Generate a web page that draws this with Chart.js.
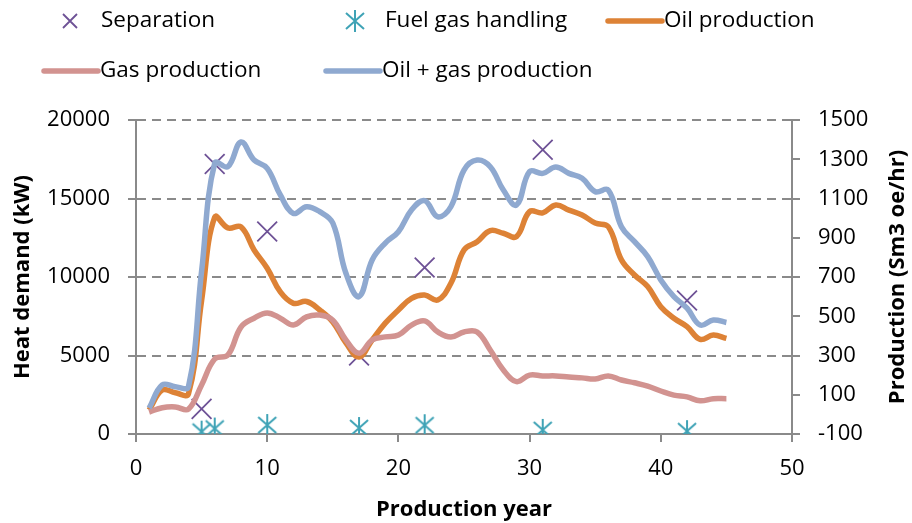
<!DOCTYPE html>
<html>
<head>
<meta charset="utf-8">
<script src="https://cdn.jsdelivr.net/npm/chart.js@4.4.1/dist/chart.umd.min.js"></script>
<style>
  html, body { margin: 0; padding: 0; background: #fff; }
  #wrap { width: 912px; height: 523px; position: relative; }
</style>
</head>
<body>
<div id="wrap"><canvas id="heatChart" width="912" height="523"></canvas></div>
<script>
// heat demand markers (left axis, kW)
const sepYears = [5, 6, 10, 17, 22, 31, 42];
const sepValues = [1600, 17200, 12900, 5000, 10600, 18100, 8500];
const fuelYears = [5, 6, 10, 17, 22, 31, 42];
const fuelValues = [150, 350, 570, 380, 560, 260, 180];

// production profiles (right axis, Sm3 oe/hr)
const years = [1, 2, 3, 4, 5, 6, 7, 8, 9, 10, 11, 12, 13, 14, 15, 16, 17, 18, 19, 20, 21, 22, 23,
  24, 25, 26, 27, 28, 29, 30, 31, 32, 33, 34, 35, 36, 37, 38, 39, 40, 41, 42, 43, 44, 45];
const oilProd = [22, 124, 110, 105, 580, 1005, 950, 955, 838, 745, 624, 566, 575, 532, 471, 364,
  292, 379, 465, 532, 591, 608, 583, 668, 838, 880, 936, 923, 906, 1033, 1027, 1067, 1041, 1016,
  975, 956, 787, 710, 651, 549, 490, 447, 382, 404, 387];
const gasProd = [12, 34, 38, 27, 150, 282, 302, 445, 490, 517, 490, 455, 497, 506, 480, 379, 312,
  379, 395, 404, 455, 476, 420, 394, 420, 420, 328, 226, 167, 200, 196, 196, 190, 186, 180, 196,
  175, 161, 144, 119, 98, 89, 69, 80, 80];
const totalProd = [32, 150, 141, 141, 730, 1280, 1262, 1388, 1296, 1254, 1118, 1024, 1058, 1033,
  975, 719, 600, 787, 873, 931, 1041, 1089, 1007, 1058, 1245, 1296, 1262, 1143, 1067, 1237, 1228,
  1260, 1228, 1203, 1135, 1143, 956, 880, 804, 685, 600, 541, 455, 481, 468];

const xTicks = [0, 10, 20, 30, 40, 50];

const PURPLE = "#6E5296";
const TEAL = "#3FA3B6";
const ORANGE = "#DD8236";
const PINK = "#D29390";
const BLUE = "#8FA9D0";
const AXIS = "#8a8a8a";
const FONT = "'Open Sans', 'Noto Sans', sans-serif";

Chart.defaults.font.family = FONT;
Chart.defaults.font.size = 22;
Chart.defaults.color = "#000";

function pairs(xs, ys) {
  return xs.map((x, i) => ({ x: x, y: ys[i] }));
}

function plain(value) {
  return String(value);
}

function drawAsterisk(ctx, cx, cy) {
  ctx.save();
  ctx.strokeStyle = TEAL;
  ctx.lineWidth = 2;
  ctx.beginPath();
  ctx.moveTo(cx, cy - 11); ctx.lineTo(cx, cy + 11);
  ctx.moveTo(cx - 9, cy - 8); ctx.lineTo(cx + 9, cy + 8);
  ctx.moveTo(cx + 9, cy - 8); ctx.lineTo(cx - 9, cy + 8);
  ctx.stroke();
  ctx.restore();
}

function drawCross(ctx, cx, cy, r) {
  ctx.save();
  ctx.strokeStyle = PURPLE;
  ctx.lineWidth = 1.8;
  ctx.beginPath();
  ctx.moveTo(cx - r, cy - r); ctx.lineTo(cx + r, cy + r);
  ctx.moveTo(cx + r, cy - r); ctx.lineTo(cx - r, cy + r);
  ctx.stroke();
  ctx.restore();
}

const asteriskImg = document.createElement("canvas");
asteriskImg.width = 24;
asteriskImg.height = 24;
drawAsterisk(asteriskImg.getContext("2d"), 12, 12);

// legend + right axis title drawn by hand (Excel-like layout)
const extrasPlugin = {
  id: "extras",
  afterDraw(chart) {
    const ctx = chart.ctx;
    ctx.save();
    ctx.font = "22.5px " + FONT;
    ctx.fillStyle = "#000";
    ctx.textBaseline = "middle";
    ctx.textAlign = "left";

    drawCross(ctx, 70, 21, 7);
    ctx.fillText("Separation", 101, 21);

    drawAsterisk(ctx, 355, 21);
    ctx.fillText("Fuel gas handling", 385, 21);

    const lines = [
      [ORANGE, 608, 662, 21, "Oil production"],
      [PINK, 44, 98, 71, "Gas production"],
      [BLUE, 326, 380, 71, "Oil + gas production"]
    ];
    lines.forEach(l => {
      ctx.strokeStyle = l[0];
      ctx.lineWidth = 5.5;
      ctx.lineCap = "round";
      ctx.beginPath();
      ctx.moveTo(l[1], l[3]);
      ctx.lineTo(l[2], l[3]);
      ctx.stroke();
      ctx.fillText(l[4], l[2] + 2, l[3]);
    });

    const area = chart.chartArea;
    ctx.translate(898, (area.top + area.bottom) / 2);
    ctx.rotate(-Math.PI / 2);
    ctx.textAlign = "center";
    ctx.font = "bold 22px " + FONT;
    ctx.fillText("Production (Sm3 oe/hr)", 0, 0);
    ctx.restore();
  }
};

const ctx = document.getElementById("heatChart").getContext("2d");
const chart = new Chart(ctx, {
  type: "line",
  data: {
    datasets: [
      {
        label: "Separation",
        data: pairs(sepYears, sepValues),
        yAxisID: "y",
        showLine: false,
        pointStyle: "crossRot",
        pointRadius: 14,
        pointBorderWidth: 1.8,
        borderColor: PURPLE,
        backgroundColor: PURPLE,
        order: 5
      },
      {
        label: "Fuel gas handling",
        data: pairs(fuelYears, fuelValues),
        yAxisID: "y",
        showLine: false,
        pointStyle: asteriskImg,
        pointRadius: 12,
        borderColor: TEAL,
        backgroundColor: TEAL,
        order: 4
      },
      {
        label: "Oil production",
        data: pairs(years, oilProd),
        yAxisID: "y1",
        borderColor: ORANGE,
        borderWidth: 5.5,
        pointRadius: 0,
        tension: 0.4,
        order: 3
      },
      {
        label: "Gas production",
        data: pairs(years, gasProd),
        yAxisID: "y1",
        borderColor: PINK,
        borderWidth: 5.5,
        pointRadius: 0,
        tension: 0.4,
        order: 2
      },
      {
        label: "Oil + gas production",
        data: pairs(years, totalProd),
        yAxisID: "y1",
        borderColor: BLUE,
        borderWidth: 5.5,
        pointRadius: 0,
        tension: 0.4,
        order: 1
      }
    ]
  },
  options: {
    responsive: false,
    animation: false,
    events: [],
    layout: { padding: { top: 120, left: 0, right: 0, bottom: 0 } },
    plugins: {
      legend: { display: false },
      tooltip: { enabled: false }
    },
    scales: {
      x: {
        type: "linear",
        min: 0,
        max: 50,
        afterBuildTicks: scale => { scale.ticks = xTicks.map(v => ({ value: v })); },
        afterFit: scale => { scale.height = 89; },
        border: { color: AXIS, width: 2 },
        grid: { drawOnChartArea: false, color: AXIS, lineWidth: 2, tickLength: 8 },
        ticks: { padding: 14, color: "#000", maxRotation: 0, callback: plain },
        title: {
          display: true,
          text: "Production year",
          font: { weight: "bold", size: 22 },
          color: "#000",
          padding: { top: 2, bottom: 0 }
        }
      },
      y: {
        position: "left",
        min: 0,
        max: 20000,
        afterFit: scale => { scale.width = 136; },
        border: { color: AXIS, width: 2, dash: [9, 6] },
        grid: { color: AXIS, lineWidth: 2, tickLength: 8, tickBorderDash: [] },
        ticks: { stepSize: 5000, padding: 18, color: "#000", callback: plain },
        title: {
          display: true,
          text: "Heat demand (kW)",
          font: { weight: "bold", size: 22 },
          color: "#000",
          padding: { top: 10, bottom: 0 }
        }
      },
      y1: {
        position: "right",
        min: -100,
        max: 1500,
        afterFit: scale => { scale.width = 120; },
        border: { color: AXIS, width: 2 },
        grid: { drawOnChartArea: false, color: AXIS, lineWidth: 2, tickLength: 8 },
        ticks: { stepSize: 200, padding: 18, color: "#000", callback: plain }
      }
    }
  },
  plugins: [extrasPlugin]
});
</script>
</body>
</html>
